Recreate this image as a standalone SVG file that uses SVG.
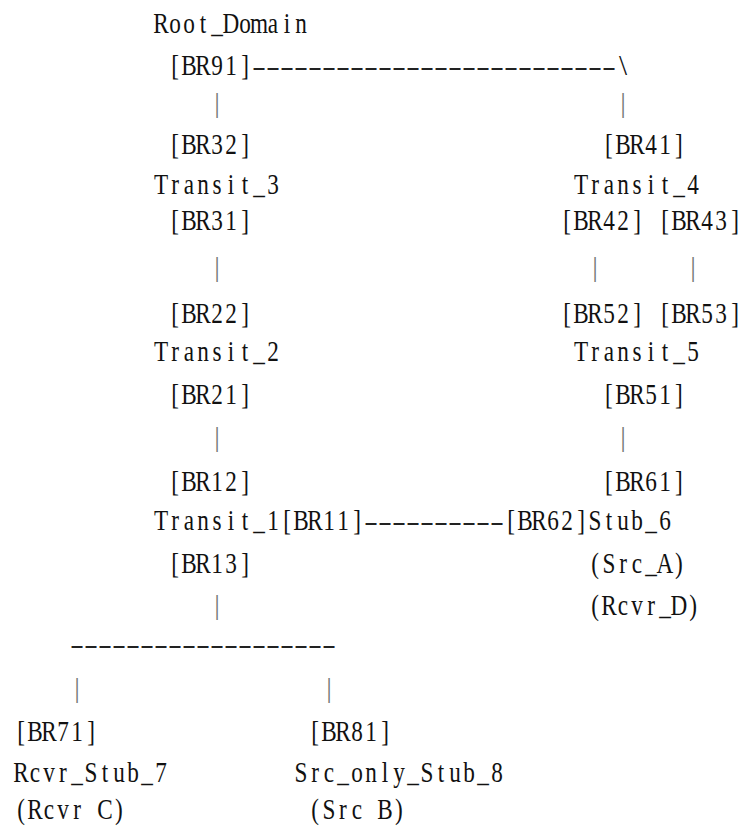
<svg xmlns="http://www.w3.org/2000/svg" width="742" height="826" viewBox="0 0 742 826">
<style>
text{font-family:"Liberation Serif","Times New Roman",serif;font-size:29px;fill:#111;}
.c{text-anchor:middle;}
.d{text-anchor:start;font-size:25px;fill:#222;}
.b{text-anchor:middle;fill:#000;font-size:28px;}
.bars{opacity:0.55;}
</style>
<rect x="0" y="0" width="742" height="826" fill="#ffffff"/>
<g id="connectors">
  <text class="d" x="252" y="75" textLength="364" lengthAdjust="spacingAndGlyphs">--------------------------</text>
  <text class="c" x="623" y="75">\</text>
  <text class="d" x="364" y="530" textLength="140" lengthAdjust="spacingAndGlyphs">----------</text>
  <text class="d" x="70" y="653" textLength="266" lengthAdjust="spacingAndGlyphs">-------------------</text>
  <g class="bars">
    <text class="b" x="217" y="112">|</text>
    <text class="b" x="623" y="112">|</text>
    <text class="b" x="217" y="276">|</text>
    <text class="b" x="595" y="276">|</text>
    <text class="b" x="693" y="276">|</text>
    <text class="b" x="217" y="446">|</text>
    <text class="b" x="623" y="446">|</text>
    <text class="b" x="217" y="614">|</text>
    <text class="b" x="77" y="697">|</text>
    <text class="b" x="329" y="697">|</text>
  </g>
</g>
<g transform="scale(0.8,1)">
  <g id="root_domain">
    <text class="c" x="201.25 218.75 236.25 253.75 271.25 288.75 306.25 323.75 341.25 358.75 376.25" y="33">Root_Domain</text>
    <text class="c" x="218.75 236.25 253.75 271.25 288.75 306.25" y="75">[BR91]</text>
  </g>
  <g id="transit_3">
    <text class="c" x="218.75 236.25 253.75 271.25 288.75 306.25" y="154">[BR32]</text>
    <text class="c" x="201.25 218.75 236.25 253.75 271.25 288.75 306.25 323.75 341.25" y="194">Transit_3</text>
    <text class="c" x="218.75 236.25 253.75 271.25 288.75 306.25" y="230">[BR31]</text>
  </g>
  <g id="transit_4">
    <text class="c" x="761.25 778.75 796.25 813.75 831.25 848.75" y="154">[BR41]</text>
    <text class="c" x="726.25 743.75 761.25 778.75 796.25 813.75 831.25 848.75 866.25" y="194">Transit_4</text>
    <text class="c" x="708.75 726.25 743.75 761.25 778.75 796.25" y="230">[BR42]</text>
    <text class="c" x="831.25 848.75 866.25 883.75 901.25 918.75" y="230">[BR43]</text>
  </g>
  <g id="transit_2">
    <text class="c" x="218.75 236.25 253.75 271.25 288.75 306.25" y="323">[BR22]</text>
    <text class="c" x="201.25 218.75 236.25 253.75 271.25 288.75 306.25 323.75 341.25" y="361">Transit_2</text>
    <text class="c" x="218.75 236.25 253.75 271.25 288.75 306.25" y="404">[BR21]</text>
  </g>
  <g id="transit_5">
    <text class="c" x="708.75 726.25 743.75 761.25 778.75 796.25" y="323">[BR52]</text>
    <text class="c" x="831.25 848.75 866.25 883.75 901.25 918.75" y="323">[BR53]</text>
    <text class="c" x="726.25 743.75 761.25 778.75 796.25 813.75 831.25 848.75 866.25" y="361">Transit_5</text>
    <text class="c" x="761.25 778.75 796.25 813.75 831.25 848.75" y="404">[BR51]</text>
  </g>
  <g id="transit_1">
    <text class="c" x="218.75 236.25 253.75 271.25 288.75 306.25" y="491">[BR12]</text>
    <text class="c" x="201.25 218.75 236.25 253.75 271.25 288.75 306.25 323.75 341.25" y="530">Transit_1</text>
    <text class="c" x="358.75 376.25 393.75 411.25 428.75 446.25" y="530">[BR11]</text>
    <text class="c" x="218.75 236.25 253.75 271.25 288.75 306.25" y="573">[BR13]</text>
  </g>
  <g id="stub_6">
    <text class="c" x="761.25 778.75 796.25 813.75 831.25 848.75" y="491">[BR61]</text>
    <text class="c" x="638.75 656.25 673.75 691.25 708.75 726.25" y="530">[BR62]</text>
    <text class="c" x="743.75 761.25 778.75 796.25 813.75 831.25" y="530">Stub_6</text>
    <text class="c" x="743.75 761.25 778.75 796.25 813.75 831.25 848.75" y="573">(Src_A)</text>
    <text class="c" x="743.75 761.25 778.75 796.25 813.75 831.25 848.75 866.25" y="615">(Rcvr_D)</text>
  </g>
  <g id="rcvr_stub_7">
    <text class="c" x="26.25 43.75 61.25 78.75 96.25 113.75" y="741">[BR71]</text>
    <text class="c" x="26.25 43.75 61.25 78.75 96.25 113.75 131.25 148.75 166.25 183.75 201.25" y="782">Rcvr_Stub_7</text>
    <text class="c" x="26.25 43.75 61.25 78.75 96.25 113.75 131.25 148.75" y="819">(Rcvr C)</text>
  </g>
  <g id="src_only_stub_8">
    <text class="c" x="393.75 411.25 428.75 446.25 463.75 481.25" y="741">[BR81]</text>
    <text class="c" x="376.25 393.75 411.25 428.75 446.25 463.75 481.25 498.75 516.25 533.75 551.25 568.75 586.25 603.75 621.25" y="782">Src_only_Stub_8</text>
    <text class="c" x="393.75 411.25 428.75 446.25 463.75 481.25 498.75" y="819">(Src B)</text>
  </g>
</g>
</svg>
